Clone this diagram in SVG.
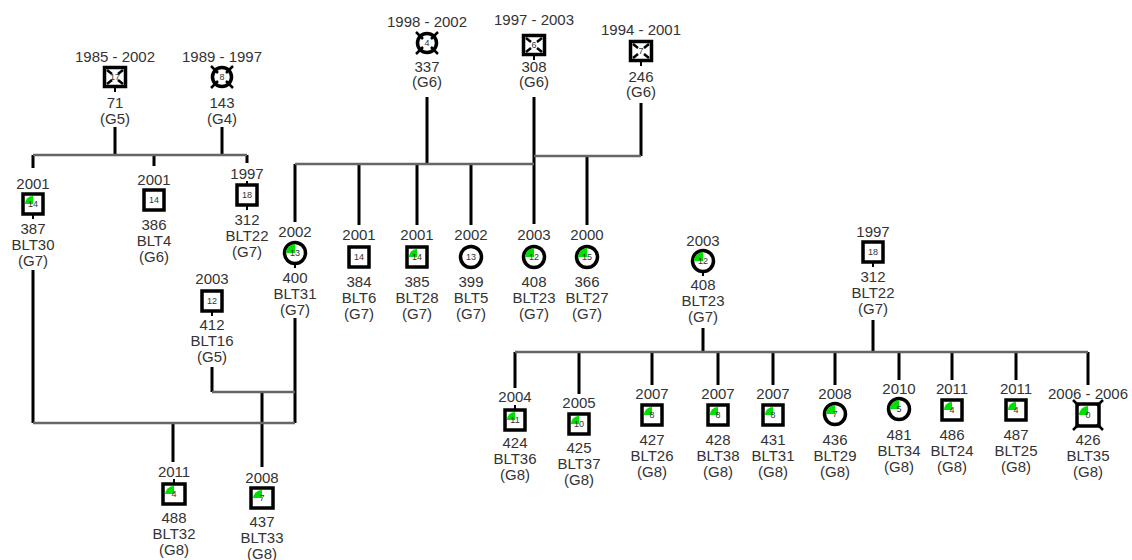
<svg xmlns="http://www.w3.org/2000/svg" width="1132" height="560" viewBox="0 0 1132 560">
<style>
.t{font-family:"Liberation Sans",Arial,sans-serif;font-size:15px;fill:#333;text-anchor:middle}
.n{font-size:9px}
.b{fill:#fff;stroke:#000;stroke-width:3.5}
.g{fill:#00e000}
.v{stroke:#000;stroke-width:3;fill:none}
.h{stroke:#666;stroke-width:2.5;fill:none}
.x{stroke:#000;stroke-width:2.5}
.s{stroke:#000;stroke-width:2}
</style>
<rect width="1132" height="560" fill="#fff"/>
<g id="connectors">
<path class="v" d="M115,127V155M222,127V155M33,155V168M154,155V166M247,155V163"/>
<path class="h" d="M33,155H247"/>
<path class="v" d="M33,270V423M212,367V392M295,318V423M262,392V467M173,423V462"/>
<path class="h" d="M212,392H295M33,423H295"/>
<path class="v" d="M427,97V164M534,97V224M641,103V156M295,164V222M359,164V225M417,164V225M471,164V225M587,156V225"/>
<path class="h" d="M295,164H534M534,156H641"/>
<path class="v" d="M703,328V352M873,320V352M515,352V388M579,352V394M652,352V385M718,352V385M773,352V385M835,352V385M899,352V380M952,352V380M1016,352V380M1088,352V385"/>
<path class="h" d="M515,352H1088"/>
<path class="s" d="M115,88V92M534,56V60M641,62V66M33,215V219M247,185V181M247,206V210M295,264V268M212,312V316M703,272V276M873,263V267M515,409V405M174,483V479"/>
</g>

<g id="n71" transform="translate(115,77)">
<text class="t" y="-15">1985 - 2002</text>
<rect class="b" x="-10.5" y="-9.5" width="21" height="19" stroke-width="4"/>
<path class="x" d="M-8,-7L-3,-3M8,-7L3,-3M-8,7L-3,3M8,7L3,3"/>
<text class="t n" y="3">17</text>
<text class="t" y="31">71</text><text class="t" y="47">(G5)</text>
</g>
<g id="n143" transform="translate(222,77)">
<text class="t" y="-15">1989 - 1997</text>
<circle class="b" r="9.5" stroke-width="3"/>
<path class="x" d="M-4,-4L-11,-11M4,-4L11,-11M-4,4L-11,11M4,4L11,11"/>
<text class="t n" y="3">8</text>
<text class="t" y="31">143</text><text class="t" y="47">(G4)</text>
</g>
<g id="n387" transform="translate(33,204)">
<text class="t" y="-15">2001</text>
<rect class="b" x="-10" y="-10" width="20" height="20"/>
<path class="g" d="M0,0L-8,0A8,8 0 0 1 0,-8Z"/>
<text class="t n" y="3">14</text>
<text class="t" y="30">387</text><text class="t" y="46">BLT30</text><text class="t" y="62">(G7)</text>
</g>
<g id="n386" transform="translate(154,200)">
<text class="t" y="-15">2001</text>
<rect class="b" x="-10" y="-10" width="20" height="20"/>
<text class="t n" y="3">14</text>
<text class="t" y="30">386</text><text class="t" y="46">BLT4</text><text class="t" y="62">(G6)</text>
</g>
<g id="n312a" transform="translate(247,195)">
<text class="t" y="-16">1997</text>
<rect class="b" x="-10" y="-10" width="20" height="20"/>
<text class="t n" y="3">18</text>
<text class="t" y="30">312</text><text class="t" y="46">BLT22</text><text class="t" y="62">(G7)</text>
</g>
<g id="n400" transform="translate(295,253)">
<text class="t" y="-16">2002</text>
<circle class="b" r="10.5" stroke-width="3"/>
<path class="g" d="M0,0L-9,0A9,9 0 0 1 0,-9Z"/>
<text class="t n" y="3">13</text>
<text class="t" y="30">400</text><text class="t" y="46">BLT31</text><text class="t" y="62">(G7)</text>
</g>
<g id="n412" transform="translate(212,301)">
<text class="t" y="-17">2003</text>
<rect class="b" x="-10" y="-10" width="20" height="20"/>
<text class="t n" y="3">12</text>
<text class="t" y="29">412</text><text class="t" y="45">BLT16</text><text class="t" y="61">(G5)</text>
</g>
<g id="n488" transform="translate(174,494)">
<text class="t" y="-17">2011</text>
<rect class="b" x="-11" y="-10" width="22" height="20"/>
<path class="g" d="M0,0L-9,0A9,9 0 0 1 0,-8Z"/>
<text class="t n" y="3">4</text>
<text class="t" y="29">488</text><text class="t" y="45">BLT32</text><text class="t" y="61">(G8)</text>
</g>
<g id="n437" transform="translate(262,498)">
<text class="t" y="-15">2008</text>
<rect class="b" x="-11" y="-10" width="22" height="20"/>
<path class="g" d="M0,0L-9,0A9,9 0 0 1 0,-8Z"/>
<text class="t n" y="3">7</text>
<text class="t" y="29">437</text><text class="t" y="45">BLT33</text><text class="t" y="61">(G8)</text>
</g>

<g id="n337" transform="translate(427,43)">
<text class="t" y="-16">1998 - 2002</text>
<circle class="b" r="9.5" stroke-width="3"/>
<path class="x" d="M-4,-4L-11,-11M4,-4L11,-11M-4,4L-11,11M4,4L11,11"/>
<text class="t n" y="3">4</text>
<text class="t" y="29">337</text><text class="t" y="44">(G6)</text>
</g>
<g id="n308" transform="translate(534,45)">
<text class="t" y="-20">1997 - 2003</text>
<rect class="b" x="-10.5" y="-9.5" width="21" height="19" stroke-width="4"/>
<path class="x" d="M-8,-7L-3,-3M8,-7L3,-3M-8,7L-3,3M8,7L3,3"/>
<text class="t n" y="3">6</text>
<text class="t" y="27">308</text><text class="t" y="42">(G6)</text>
</g>
<g id="n246" transform="translate(641,51)">
<text class="t" y="-16">1994 - 2001</text>
<rect class="b" x="-10.5" y="-9.5" width="21" height="19" stroke-width="4"/>
<path class="x" d="M-8,-7L-3,-3M8,-7L3,-3M-8,7L-3,3M8,7L3,3"/>
<text class="t n" y="3">7</text>
<text class="t" y="31">246</text><text class="t" y="46">(G6)</text>
</g>
<g id="n384" transform="translate(359,257)">
<text class="t" y="-17">2001</text>
<rect class="b" x="-10" y="-10" width="20" height="20"/>
<text class="t n" y="3">14</text>
<text class="t" y="30">384</text><text class="t" y="46">BLT6</text><text class="t" y="62">(G7)</text>
</g>
<g id="n385" transform="translate(417,257)">
<text class="t" y="-17">2001</text>
<rect class="b" x="-10" y="-10" width="20" height="20"/>
<path class="g" d="M0,0L-8,0A8,8 0 0 1 0,-8Z"/>
<text class="t n" y="3">14</text>
<text class="t" y="30">385</text><text class="t" y="46">BLT28</text><text class="t" y="62">(G7)</text>
</g>
<g id="n399" transform="translate(471,257)">
<text class="t" y="-17">2002</text>
<circle class="b" r="10.5" stroke-width="3"/>
<text class="t n" y="3">13</text>
<text class="t" y="30">399</text><text class="t" y="46">BLT5</text><text class="t" y="62">(G7)</text>
</g>
<g id="n408a" transform="translate(534,257)">
<text class="t" y="-17">2003</text>
<circle class="b" r="10.5" stroke-width="3"/>
<path class="g" d="M0,0L-9,0A9,9 0 0 1 0,-9Z"/>
<text class="t n" y="3">12</text>
<text class="t" y="30">408</text><text class="t" y="46">BLT23</text><text class="t" y="62">(G7)</text>
</g>
<g id="n366" transform="translate(587,257)">
<text class="t" y="-17">2000</text>
<circle class="b" r="10.5" stroke-width="3"/>
<path class="g" d="M0,0L-9,0A9,9 0 0 1 0,-9Z"/>
<text class="t n" y="3">15</text>
<text class="t" y="30">366</text><text class="t" y="46">BLT27</text><text class="t" y="62">(G7)</text>
</g>

<g id="n408b" transform="translate(703,261)">
<text class="t" y="-15">2003</text>
<circle class="b" r="10.5" stroke-width="3"/>
<path class="g" d="M0,0L-9,0A9,9 0 0 1 0,-9Z"/>
<text class="t n" y="3">12</text>
<text class="t" y="29">408</text><text class="t" y="45">BLT23</text><text class="t" y="61">(G7)</text>
</g>
<g id="n312b" transform="translate(873,252)">
<text class="t" y="-15">1997</text>
<rect class="b" x="-10" y="-10" width="20" height="20"/>
<text class="t n" y="3">18</text>
<text class="t" y="30">312</text><text class="t" y="46">BLT22</text><text class="t" y="62">(G7)</text>
</g>
<g id="n424" transform="translate(515,420)">
<text class="t" y="-18">2004</text>
<rect class="b" x="-10" y="-10" width="20" height="20"/>
<path class="g" d="M0,0L-8,0A8,8 0 0 1 0,-8Z"/>
<text class="t n" y="3">11</text>
<text class="t" y="28">424</text><text class="t" y="44">BLT36</text><text class="t" y="60">(G8)</text>
</g>
<g id="n425" transform="translate(579,424)">
<text class="t" y="-16">2005</text>
<rect class="b" x="-10" y="-10" width="20" height="20"/>
<path class="g" d="M0,0L-8,0A8,8 0 0 1 0,-8Z"/>
<text class="t n" y="3">10</text>
<text class="t" y="29">425</text><text class="t" y="45">BLT37</text><text class="t" y="61">(G8)</text>
</g>
<g id="n427" transform="translate(652,415)">
<text class="t" y="-16">2007</text>
<rect class="b" x="-10" y="-10" width="20" height="20"/>
<path class="g" d="M0,0L-8,0A8,8 0 0 1 0,-8Z"/>
<text class="t n" y="3">8</text>
<text class="t" y="30">427</text><text class="t" y="46">BLT26</text><text class="t" y="62">(G8)</text>
</g>
<g id="n428" transform="translate(718,415)">
<text class="t" y="-16">2007</text>
<rect class="b" x="-10" y="-10" width="20" height="20"/>
<path class="g" d="M0,0L-8,0A8,8 0 0 1 0,-8Z"/>
<text class="t n" y="3">8</text>
<text class="t" y="30">428</text><text class="t" y="46">BLT38</text><text class="t" y="62">(G8)</text>
</g>
<g id="n431" transform="translate(773,415)">
<text class="t" y="-16">2007</text>
<rect class="b" x="-10" y="-10" width="20" height="20"/>
<path class="g" d="M0,0L-8,0A8,8 0 0 1 0,-8Z"/>
<text class="t n" y="3">8</text>
<text class="t" y="30">431</text><text class="t" y="46">BLT31</text><text class="t" y="62">(G8)</text>
</g>
<g id="n436" transform="translate(835,414)">
<text class="t" y="-15">2008</text>
<circle class="b" r="10.5" stroke-width="3"/>
<path class="g" d="M0,0L-9,0A9,9 0 0 1 0,-9Z"/>
<text class="t n" y="3">7</text>
<text class="t" y="31">436</text><text class="t" y="47">BLT29</text><text class="t" y="63">(G8)</text>
</g>
<g id="n481" transform="translate(899,409)">
<text class="t" y="-15">2010</text>
<circle class="b" r="10.5" stroke-width="3"/>
<path class="g" d="M0,0L-9,0A9,9 0 0 1 0,-9Z"/>
<text class="t n" y="3">5</text>
<text class="t" y="31">481</text><text class="t" y="47">BLT34</text><text class="t" y="63">(G8)</text>
</g>
<g id="n486" transform="translate(952,410)">
<text class="t" y="-16">2011</text>
<rect class="b" x="-10" y="-10" width="20" height="20"/>
<path class="g" d="M0,0L-8,0A8,8 0 0 1 0,-8Z"/>
<text class="t n" y="3">4</text>
<text class="t" y="30">486</text><text class="t" y="46">BLT24</text><text class="t" y="62">(G8)</text>
</g>
<g id="n487" transform="translate(1016,410)">
<text class="t" y="-16">2011</text>
<rect class="b" x="-10" y="-10" width="20" height="20"/>
<path class="g" d="M0,0L-8,0A8,8 0 0 1 0,-8Z"/>
<text class="t n" y="3">4</text>
<text class="t" y="30">487</text><text class="t" y="46">BLT25</text><text class="t" y="62">(G8)</text>
</g>
<g id="n426" transform="translate(1088,415)">
<text class="t" y="-16">2006 - 2006</text>
<rect class="b" x="-11" y="-11" width="22" height="22"/>
<path class="g" d="M0,0L-9,0A9,9 0 0 1 0,-9Z"/>
<path class="x" d="M-9,-9L-15,-15M9,-9L15,-15M-9,9L-15,15M9,9L15,15"/>
<text class="t n" y="3">0</text>
<text class="t" y="30">426</text><text class="t" y="46">BLT35</text><text class="t" y="62">(G8)</text>
</g>
</svg>
